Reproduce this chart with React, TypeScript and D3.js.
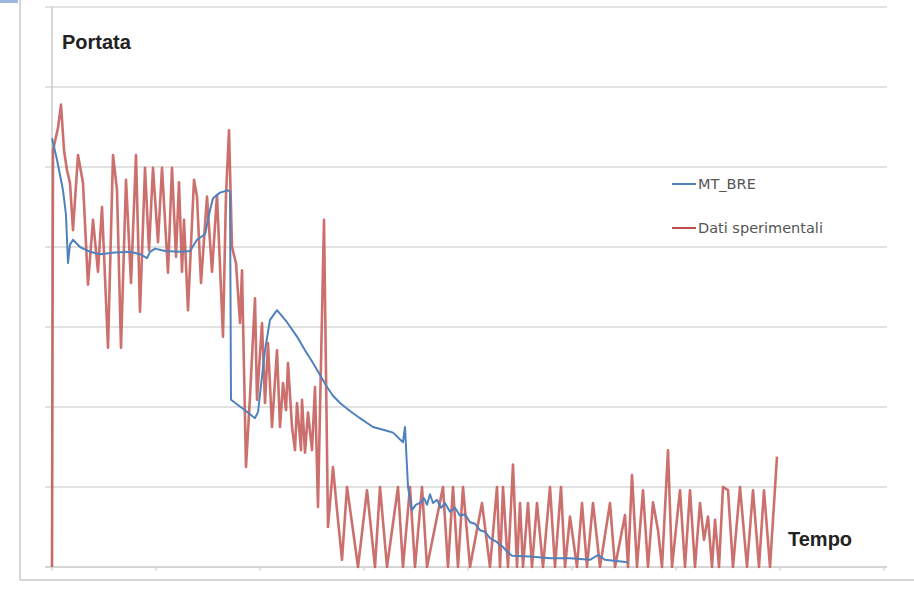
import * as d3 from "d3";
import { useEffect, useRef } from "react";

// Dati sperimentali: [tempo, portata]
const redSeries: [number, number][] = [
  [0, 0], [1, 52.1], [6, 54.9], [9, 57.8], [12, 52.1], [15, 49.6], [18, 48.0], [21, 42.1],
  [26, 51.5], [31, 48.0], [36, 35.3], [41, 43.4], [46, 36.9], [50, 45.0], [56, 27.4],
  [61, 51.5], [65, 47.1], [69, 27.4], [74, 48.4], [79, 35.5], [84, 51.5], [88, 31.9],
  [93, 49.9], [97, 39.6], [101, 49.9], [106, 40.6], [110, 49.9], [116, 36.8], [120, 49.9],
  [124, 38.8], [127, 48.1], [130, 36.9], [132, 43.4], [136, 32.1], [142, 48.4], [145, 46.3],
  [149, 35.5], [155, 46.3], [160, 36.9], [165, 46.5], [171, 28.8], [174, 46.5], [177, 54.6],
  [180, 40.0], [184, 38.0], [188, 30.5], [190, 37.1], [194, 12.5], [198, 21.3], [203, 33.6],
  [205, 20.9], [210, 30.5], [213, 20.5], [216, 28.0], [220, 17.5], [225, 27.1], [228, 17.5],
  [231, 23.0], [234, 19.6], [236, 25.5], [240, 17.5], [243, 14.6], [245, 20.5], [249, 14.6],
  [250, 20.9], [253, 14.3], [256, 19.3], [260, 14.6], [263, 22.5], [266, 7.5], [272, 43.4],
  [276, 5.0], [281, 12.5], [285, 7.1], [290, 0.9], [295, 10.0], [301, 4.6], [306, 0],
  [315, 9.6], [323, 0], [328, 10], [335, 0], [346, 10], [351, 0], [358, 10], [363, 0],
  [370, 10], [375, 0], [391, 10], [396, 0], [401, 10], [406, 0], [411, 10], [418, 0],
  [430, 8], [438, 0], [445, 10], [448, 0], [451, 10], [456, 0], [461, 12.8], [465, 0],
  [468, 8], [471, 0], [476, 8], [480, 0], [485, 8], [491, 0], [498, 10], [503, 0],
  [509, 10], [513, 0], [518, 6.3], [525, 0], [530, 8], [535, 0], [541, 8], [548, 0],
  [558, 8], [563, 0], [573, 6.5], [576, 0], [580, 11.5], [585, 0], [591, 9.6], [596, 0],
  [601, 8.1], [606, 4.6], [610, 0], [616, 14.6], [620, 0], [628, 9.6], [633, 0], [638, 9.6],
  [643, 0], [648, 8], [652, 3.4], [656, 6.3], [660, 0], [663, 5.9], [667, 0], [671, 10],
  [676, 9.6], [681, 0], [688, 10], [695, 0], [701, 9.6], [707, 0], [712, 9.6], [718, 0],
  [725, 13.8],
];

// MT_BRE: [tempo, portata]
const blueSeries: [number, number][] = [
  [0, 53.6], [5, 50.9], [11, 47.1], [14, 44], [16, 38], [18, 40.3], [21, 40.9], [28, 40],
  [38, 39.4], [48, 39.1], [63, 39.3], [78, 39.4], [88, 39.1], [95, 38.6], [98, 39.4],
  [103, 39.8], [113, 39.5], [128, 39.4], [138, 39.5], [145, 40.9], [153, 41.6], [158, 44.6],
  [161, 46.1], [168, 46.8], [176, 47.1], [178, 46.9], [179, 20.9], [193, 19.6], [203, 18.6],
  [206, 19.4], [213, 27.1], [218, 30.9], [225, 32.1], [235, 30.6], [245, 28.8], [253, 27.1],
  [261, 25.5], [268, 24], [275, 22.5], [281, 21.4], [288, 20.5], [298, 19.5], [308, 18.6],
  [321, 17.5], [333, 17.1], [341, 16.8], [351, 15.6], [353, 17.5], [356, 10], [360, 7.1],
  [364, 7.8], [368, 8], [372, 8.6], [375, 7.8], [378, 9.1], [381, 8], [385, 8.4], [389, 7.4],
  [393, 8], [398, 6.9], [403, 7.4], [408, 6.4], [413, 6.6], [418, 5.6], [423, 5.4],
  [428, 4.6], [433, 4.4], [438, 3.6], [445, 3.1], [451, 2.5], [456, 1.8], [460, 1.4],
  [478, 1.3], [498, 1.1], [518, 1.1], [538, 0.9], [546, 1.5], [553, 0.9], [576, 0.6],
];

const yTicks = [0, 10, 20, 30, 40, 50, 60, 70];
const xTicks = [0, 104, 208, 312, 416, 520, 624, 728, 832];

const legendItems = [
  { label: "MT_BRE", color: "#4f81bd" },
  { label: "Dati sperimentali", color: "#c0504d" },
];

const App = () => {
  const ref = useRef<SVGSVGElement>(null);

  useEffect(() => {
    const svg = d3.select(ref.current);
    svg.selectAll("*").remove();
    const width = 914;
    const height = 592;

    const x = d3.scaleLinear().domain([0, 835]).range([52, 887]);
    const y = d3.scaleLinear().domain([0, 70]).range([567, 7]);

    svg.attr("width", width).attr("height", height);
    svg.append("rect").attr("width", width).attr("height", height).attr("fill", "#fff");

    // outer frame
    svg.append("rect").attr("x", 0).attr("y", 0).attr("width", 18).attr("height", 3).attr("fill", "#9fb6da");
    svg.append("line").attr("x1", 20).attr("x2", 20).attr("y1", 0).attr("y2", 580)
      .attr("stroke", "#d6d6d6").attr("stroke-width", 2);
    svg.append("line").attr("x1", 20).attr("x2", width).attr("y1", 580).attr("y2", 580)
      .attr("stroke", "#d6d6d6").attr("stroke-width", 2);

    // gridlines
    svg.append("g")
      .selectAll("line")
      .data(yTicks.slice(1))
      .join("line")
      .attr("x1", 45)
      .attr("x2", 887)
      .attr("y1", (d) => y(d))
      .attr("y2", (d) => y(d))
      .attr("stroke", "#d9d9d9")
      .attr("stroke-width", 1.5);

    // axes
    svg.append("line").attr("x1", 52).attr("x2", 52).attr("y1", y(70)).attr("y2", y(0))
      .attr("stroke", "#c8c8c8").attr("stroke-width", 1.5);
    svg.append("line").attr("x1", 45).attr("x2", 887).attr("y1", y(0)).attr("y2", y(0))
      .attr("stroke", "#c8c8c8").attr("stroke-width", 1.5);
    svg.append("g")
      .selectAll("line")
      .data(xTicks)
      .join("line")
      .attr("x1", (d) => x(d))
      .attr("x2", (d) => x(d))
      .attr("y1", y(0))
      .attr("y2", y(0) + 4)
      .attr("stroke", "#d4d4d4")
      .attr("stroke-width", 1.2);

    const line = d3
      .line<[number, number]>()
      .x((d) => x(d[0]))
      .y((d) => y(d[1]));

    svg.append("path").datum(redSeries).attr("d", line)
      .attr("fill", "none").attr("stroke", "#c0504d").attr("stroke-width", 2.6)
      .attr("stroke-linejoin", "round").attr("stroke-opacity", 0.82);
    svg.append("path").datum(blueSeries).attr("d", line)
      .attr("fill", "none").attr("stroke", "#4f81bd").attr("stroke-width", 2)
      .attr("stroke-linejoin", "round");

    // axis titles
    svg.append("text").attr("x", 62).attr("y", 49).text("Portata")
      .attr("font-family", "Liberation Sans, Arial, sans-serif").attr("font-weight", "bold")
      .attr("font-size", 20).attr("fill", "#222");
    svg.append("text").attr("x", 788).attr("y", 546).text("Tempo")
      .attr("font-family", "Liberation Sans, Arial, sans-serif").attr("font-weight", "bold")
      .attr("font-size", 20).attr("fill", "#222");

    // legend
    const legend = svg.append("g").attr("transform", "translate(672,184)");
    legendItems.forEach((item, i) => {
      const g = legend.append("g").attr("transform", `translate(0,${i * 44})`);
      g.append("line").attr("x1", 0).attr("x2", 24).attr("y1", 0).attr("y2", 0)
        .attr("stroke", item.color).attr("stroke-width", 2);
      g.append("text").attr("x", 26).attr("y", 5).text(item.label)
        .attr("font-family", "DejaVu Sans, sans-serif").attr("font-size", 14.5)
        .attr("fill", "#555");
    });
  }, []);

  return <svg ref={ref} style={{ position: "absolute", left: 0, top: 0, display: "block" }} />;
};

export default App;
